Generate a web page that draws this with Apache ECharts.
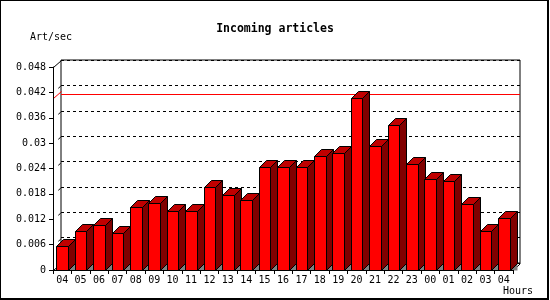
<!DOCTYPE html>
<html><head><meta charset="utf-8">
<script src="https://cdn.jsdelivr.net/npm/echarts@6/dist/echarts.min.js"></script>
<style>html,body{margin:0;padding:0;background:#fff}#c{width:550px;height:300px}</style>
</head><body><div id="c"></div>
<script>
const chartTitle = 'Incoming articles';
const yName = 'Art/sec';
const xName = 'Hours';
const hours = ['04','05','06','07','08','09','10','11','12','13','14','15','16','17','18','19','20','21','22','23','00','01','02','03','04'];
const rates = [0.0057,0.0092,0.0106,0.0087,0.0149,0.0159,0.0139,0.0139,0.0197,0.0177,0.0166,0.0243,0.0243,0.0243,0.0270,0.0277,0.0407,0.0294,0.0343,0.0250,0.0216,0.0211,0.0156,0.0092,0.0123];
const yMax = 0.048;
const yStep = 0.006;

const FONT = 'DejaVu Sans Mono';
const DX = 8, DY = 7;      // depth of the back plane
const BX = 7, BY = 7;      // depth of each bar
const maxRate = Math.max(...rates);

const chart = echarts.init(document.getElementById('c'), null, {renderer: 'canvas'});

function px(v) { return Math.round(v) + 0.5; }

const barSeries = {
  type: 'custom', xAxisIndex: 0, yAxisIndex: 0, z: 5,
  data: rates.map((v, i) => [i, v]),
  renderItem(params, api) {
    const i = api.value(0), v = api.value(1);
    const top = api.coord([i, v]);
    const base = api.coord([i, 0]);
    const band = api.size([1, 0])[0];
    const w = band * 0.62;
    const x0 = px(top[0] - w / 2), x1 = px(top[0] + w / 2);
    const yt = px(top[1]), yb = px(base[1]);
    const st = {stroke: '#000', lineWidth: 1};
    return {type: 'group', children: [
      {type: 'polygon', shape: {points: [[x1, yb], [x1 + BX, yb - BY], [x1 + BX, yb]]},
       style: {fill: '#808080'}},
      {type: 'polygon', shape: {points: [[x1, yt], [x1 + BX, yt - BY], [x1 + BX, yb - BY], [x1, yb]]},
       style: Object.assign({fill: '#800000'}, st)},
      {type: 'polygon', shape: {points: [[x0, yt], [x0 + BX, yt - BY], [x1 + BX, yt - BY], [x1, yt]]},
       style: Object.assign({fill: '#c00000'}, st)},
      {type: 'rect', shape: {x: x0, y: yt, width: x1 - x0, height: yb - yt},
       style: Object.assign({fill: '#ff0000'}, st)}
    ]};
  }
};

const decorSeries = {
  type: 'custom', xAxisIndex: 0, yAxisIndex: 0, z: 3, silent: true,
  data: [[0, 0]],
  renderItem(params, api) {
    const cs = params.coordSys;
    const x0 = px(cs.x), xr = px(cs.x + cs.width);
    const yTop = api.coord([0, yMax])[1], yBot = api.coord([0, 0])[1];
    const ch = [];
    const solid = {stroke: '#000', lineWidth: 1};
    ch.push({type: 'line', shape: {x1: x0, y1: px(yTop), x2: x0 + DX, y2: px(yTop) - DY}, style: solid});
    ch.push({type: 'line', shape: {x1: x0, y1: px(yBot), x2: x0 + DX, y2: px(yBot) - DY}, style: solid});
    ch.push({type: 'line', shape: {x1: xr, y1: px(yBot), x2: xr + DX - 1, y2: px(yBot) - DY}, style: solid});
    for (let k = 1; k * yStep < yMax - 1e-9; k++) {
      const y = px(api.coord([0, k * yStep])[1]);
      ch.push({type: 'line', shape: {x1: x0 + 0.6 * DX, y1: y - 0.6 * DY, x2: x0 + 0.9 * DX, y2: y - 0.9 * DY}, style: solid});
    }
    const ym = px(api.coord([0, maxRate])[1]);
    ch.push({type: 'line', shape: {x1: x0, y1: ym, x2: x0 + DX, y2: ym - DY}, style: {stroke: '#ff0000', lineWidth: 1}});
    return {type: 'group', children: ch};
  }
};

const option = {
  backgroundColor: '#fff',
  animation: false,
  title: {
    text: chartTitle, left: 'center', top: 18,
    textStyle: {fontFamily: FONT, fontSize: 11.5, fontWeight: 'bold', color: '#000'}
  },
  grid: [
    {left: 53, top: 67, right: 37, bottom: 30, containLabel: false},
    {left: 61, top: 60, right: 30, bottom: 37, containLabel: false, show: true,
     borderColor: '#000', borderWidth: 1, backgroundColor: 'transparent'}
  ],
  xAxis: [
    {type: 'category', gridIndex: 0, data: hours, boundaryGap: true,
     axisLine: {show: true, lineStyle: {color: '#000', width: 1}},
     axisTick: {show: true, length: 4, lineStyle: {color: '#000'}},
     axisLabel: {fontFamily: FONT, fontSize: 10, color: '#000', margin: 5, interval: 0},
     splitLine: {show: false}, z: 10},
    {type: 'category', gridIndex: 1, data: hours, boundaryGap: true,
     axisLine: {show: false}, axisTick: {show: false}, axisLabel: {show: false},
     splitLine: {show: false}}
  ],
  yAxis: [
    {type: 'value', gridIndex: 0, min: 0, max: yMax, interval: yStep,
     axisLine: {show: true, lineStyle: {color: '#000', width: 1}},
     axisTick: {show: true, length: 4, lineStyle: {color: '#000'}},
     axisLabel: {fontFamily: FONT, fontSize: 10, color: '#000', margin: 7,
       formatter: v => String(+v.toFixed(3))},
     splitLine: {show: false}, z: 10},
    {type: 'value', gridIndex: 1, min: 0, max: yMax, interval: yStep,
     axisLine: {show: false}, axisTick: {show: false}, axisLabel: {show: false},
     splitLine: {show: true, lineStyle: {color: '#000', type: [3, 3], width: 1}}}
  ],
  graphic: [
    {type: 'text', left: 30, top: 32, style: {text: yName, font: '10px "DejaVu Sans Mono"', fill: '#000'}},
    {type: 'text', left: 503, top: 286, style: {text: xName, font: '10px "DejaVu Sans Mono"', fill: '#000'}},
    {type: 'rect', left: 0, top: 0, shape: {width: 1, height: 300}, style: {fill: '#000'}},
    {type: 'rect', left: 0, top: 0, shape: {width: 549, height: 1}, style: {fill: '#000'}},
    {type: 'rect', left: 547, top: 0, shape: {width: 2, height: 300}, style: {fill: '#000'}},
    {type: 'rect', left: 0, top: 298, shape: {width: 549, height: 2}, style: {fill: '#000'}}
  ],
  series: [
    {type: 'line', xAxisIndex: 1, yAxisIndex: 1, data: rates, symbol: 'none', z: 1, silent: true,
     lineStyle: {opacity: 0},
     markLine: {silent: true, symbol: ['none', 'none'], label: {show: false},
       lineStyle: {color: '#ff0000', type: 'solid', width: 1},
       data: [{type: 'max'}]}},
    decorSeries,
    barSeries
  ]
};
chart.setOption(option);
</script></body></html>
